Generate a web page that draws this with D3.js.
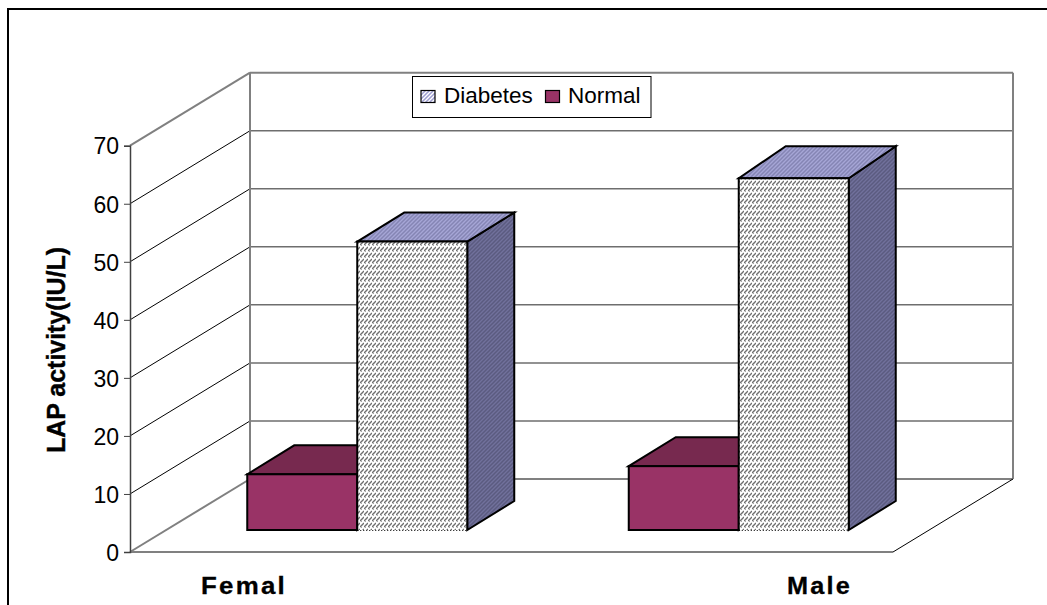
<!DOCTYPE html>
<html><head><meta charset="utf-8">
<script src="https://cdn.jsdelivr.net/npm/d3@7/dist/d3.min.js"></script>
<style>html,body{margin:0;padding:0;background:#fff;overflow:hidden}svg{display:block}text{font-family:"Liberation Sans",Arial,sans-serif;fill:#000}</style>
</head><body><div id="c"></div>
<script>
const categories = ["Femal", "Male"];
const seriesNames = ["Normal", "Diabetes"];
const normalValues = [9.6, 11];
const diabetesValues = [49.7, 60.6];
const yTicks = [0, 10, 20, 30, 40, 50, 60, 70];
const yTitle = "LAP activity(IU/L)";

const W = 1047, H = 605;
const svg = d3.select("#c").append("svg").attr("width", W).attr("height", H);
const defs = svg.append("defs");

function stripes(id, a, b, size) {
  const p = defs.append("pattern").attr("id", id).attr("patternUnits", "userSpaceOnUse")
    .attr("width", size).attr("height", size);
  p.append("rect").attr("width", size).attr("height", size).attr("fill", a);
  p.append("path").attr("d", `M${-1},${1} L${1},${-1} M0,${size} L${size},0 M${size-1},${size+1} L${size+1},${size-1}`)
    .attr("stroke", b).attr("stroke-width", 1.5).attr("fill", "none");
}
stripes("dTop", "#a6a6d6", "#8585b4", 4);
stripes("dSide", "#71719c", "#5b5b80", 4);
stripes("dLegend", "#ffffff", "#9c9cd0", 4);

const fp = defs.append("pattern").attr("id", "dFront").attr("patternUnits", "userSpaceOnUse")
  .attr("width", 4).attr("height", 6);
fp.append("rect").attr("width", 4).attr("height", 6).attr("fill", "#fff");
fp.append("path").attr("d", "M0.5,4.5 L3.5,1.5").attr("stroke", "#707070").attr("stroke-width", 1.4).attr("stroke-linecap", "square");
fp.append("rect").attr("x", 1).attr("y", 5.5).attr("width", 1).attr("height", 0.5).attr("fill", "#555");

// frame (top and left only)
svg.append("path").attr("d", `M8,${H} V9 H${W}`).attr("fill", "none").attr("stroke", "#000").attr("stroke-width", 2);

// scales
const x0 = 130, x1 = 893, wallDx = 120, wallDy = 73;
const y = d3.scaleLinear().domain([0, 70]).range([552, 145.7]);
const barDx = 36.5, barDy = 22, depthX = 47, depthY = 29;
const xCat = d3.scaleBand().domain(categories).range([x0, x1]);
const xSer = d3.scalePoint().domain(seriesNames).range([-110, 0]);
const barW = 110;

// walls
const g = svg.append("g").attr("fill", "none");
yTicks.forEach(t => {
  const edge = t === 0 || t === 70;
  g.append("line").attr("x1", x0).attr("y1", y(t)).attr("x2", x0 + wallDx).attr("y2", y(t) - wallDy)
    .attr("stroke", edge ? "#808080" : "#000").attr("stroke-width", edge ? 2 : 1);
  if (t > 0) g.append("line").attr("x1", x0 + wallDx).attr("y1", y(t) - wallDy).attr("x2", x1 + wallDx).attr("y2", y(t) - wallDy)
    .attr("stroke", t === 70 ? "#808080" : "#6e6e6e").attr("stroke-width", t === 70 ? 2 : 1.5);
});
g.append("line").attr("x1", x0 + wallDx).attr("y1", y(0) - wallDy).attr("x2", x1 + wallDx).attr("y2", y(0) - wallDy).attr("stroke", "#808080").attr("stroke-width", 2);
g.append("line").attr("x1", x0 + wallDx).attr("y1", y(70) - wallDy).attr("x2", x0 + wallDx).attr("y2", y(0) - wallDy).attr("stroke", "#808080").attr("stroke-width", 2);
g.append("line").attr("x1", x1 + wallDx).attr("y1", y(70) - wallDy).attr("x2", x1 + wallDx).attr("y2", y(0) - wallDy).attr("stroke", "#808080").attr("stroke-width", 2);
g.append("line").attr("x1", x0).attr("y1", y(0)).attr("x2", x1).attr("y2", y(0)).attr("stroke", "#808080").attr("stroke-width", 2);
g.append("line").attr("x1", x1).attr("y1", y(0)).attr("x2", x1 + wallDx).attr("y2", y(0) - wallDy).attr("stroke", "#000").attr("stroke-width", 1);

// y axis
const axis = d3.axisLeft(y).tickValues(yTicks).tickSize(6).tickPadding(5);
const ag = svg.append("g").attr("transform", `translate(${x0},0)`).call(axis);
ag.selectAll(".domain").attr("stroke", "#404040").attr("stroke-width", 1.5);
ag.selectAll(".tick line").attr("stroke", "#404040").attr("stroke-width", 1);
ag.selectAll("text").attr("font-size", 23).attr("font-family", '"Liberation Sans"').attr("dy", "0.36em").attr("fill", "#111");

// bars
const styles = {
  Normal: { front: "#993366", top: "#77294f", side: "#5f2140" },
  Diabetes: { front: "url(#dFront)", top: "url(#dTop)", side: "url(#dSide)" }
};
const bars = [];
seriesNames.forEach(s => categories.forEach((c, i) => {
  bars.push({ s, c, v: (s === "Normal" ? normalValues : diabetesValues)[i] });
}));
const bg = svg.append("g").attr("stroke", "#000").attr("stroke-width", 2).attr("stroke-linejoin", "miter");
const baseY = y(0) - barDy;
bars.forEach(d => {
  const left = xCat(d.c) + xCat.bandwidth() / 2 + barDx + xSer(d.s);
  const right = left + barW;
  const top = baseY - (y(0) - y(d.v));
  const rise = (d.s === "Diabetes" && d.c === "Male") ? 32 : depthY;
  const st = styles[d.s];
  bg.append("path").attr("fill", st.side).attr("d",
    `M${right},${top} L${right + depthX},${top - rise} L${right + depthX},${baseY - depthY} L${right},${baseY} Z`);
  bg.append("path").attr("fill", st.top).attr("d",
    `M${left},${top} L${left + depthX},${top - rise} L${right + depthX},${top - rise} L${right},${top} Z`);
  if (d.s === "Normal") {
    bg.append("rect").attr("x", left).attr("y", top).attr("width", barW).attr("height", baseY - top).attr("fill", st.front);
  } else {
    bg.append("rect").attr("x", left).attr("y", top).attr("width", barW).attr("height", baseY - top).attr("fill", st.front).attr("stroke", "none");
    bg.append("path").attr("fill", "none").attr("d", `M${left},${baseY} V${top} H${right} V${baseY}`);
    bg.append("line").attr("x1", left).attr("x2", right + 1).attr("y1", baseY + 0.5).attr("y2", baseY + 0.5)
      .attr("stroke-width", 1).attr("stroke-dasharray", "1,2");
  }
});

// category labels
const catX = { Femal: [201, 86], Male: [787, 65] };
svg.selectAll(".cat").data(categories).enter().append("text").attr("class", "cat")
  .attr("x", d => catX[d][0]).attr("y", 594)
  .attr("font-size", 23).attr("font-weight", "bold").attr("letter-spacing", 2)
  .attr("stroke", "#000").attr("stroke-width", 0.3)
  .attr("textLength", d => catX[d][1]).attr("lengthAdjust", "spacingAndGlyphs").text(d => d);

// y title
svg.append("text").attr("transform", "translate(65,453) rotate(-90)")
  .attr("font-size", 25).attr("font-weight", "bold")
  .attr("stroke", "#000").attr("stroke-width", 0.4)
  .attr("textLength", 206).attr("lengthAdjust", "spacingAndGlyphs").text(yTitle);

// legend
const lg = svg.append("g");
lg.append("rect").attr("x", 412.5).attr("y", 76.5).attr("width", 238.5).attr("height", 41).attr("fill", "#fff").attr("stroke", "#000").attr("stroke-width", 1);
const legendItems = [
  { name: "Diabetes", x: 421, fill: "url(#dLegend)", tx: 444 },
  { name: "Normal", x: 545.5, fill: "#993366", tx: 568 }
];
legendItems.forEach(d => {
  lg.append("rect").attr("x", d.x).attr("y", 90.5).attr("width", 14).attr("height", 12).attr("fill", d.fill).attr("stroke", "#000").attr("stroke-width", 1.2);
  lg.append("text").attr("x", d.tx).attr("y", 103).attr("font-size", 22.5).text(d.name);
});
</script></body></html>
